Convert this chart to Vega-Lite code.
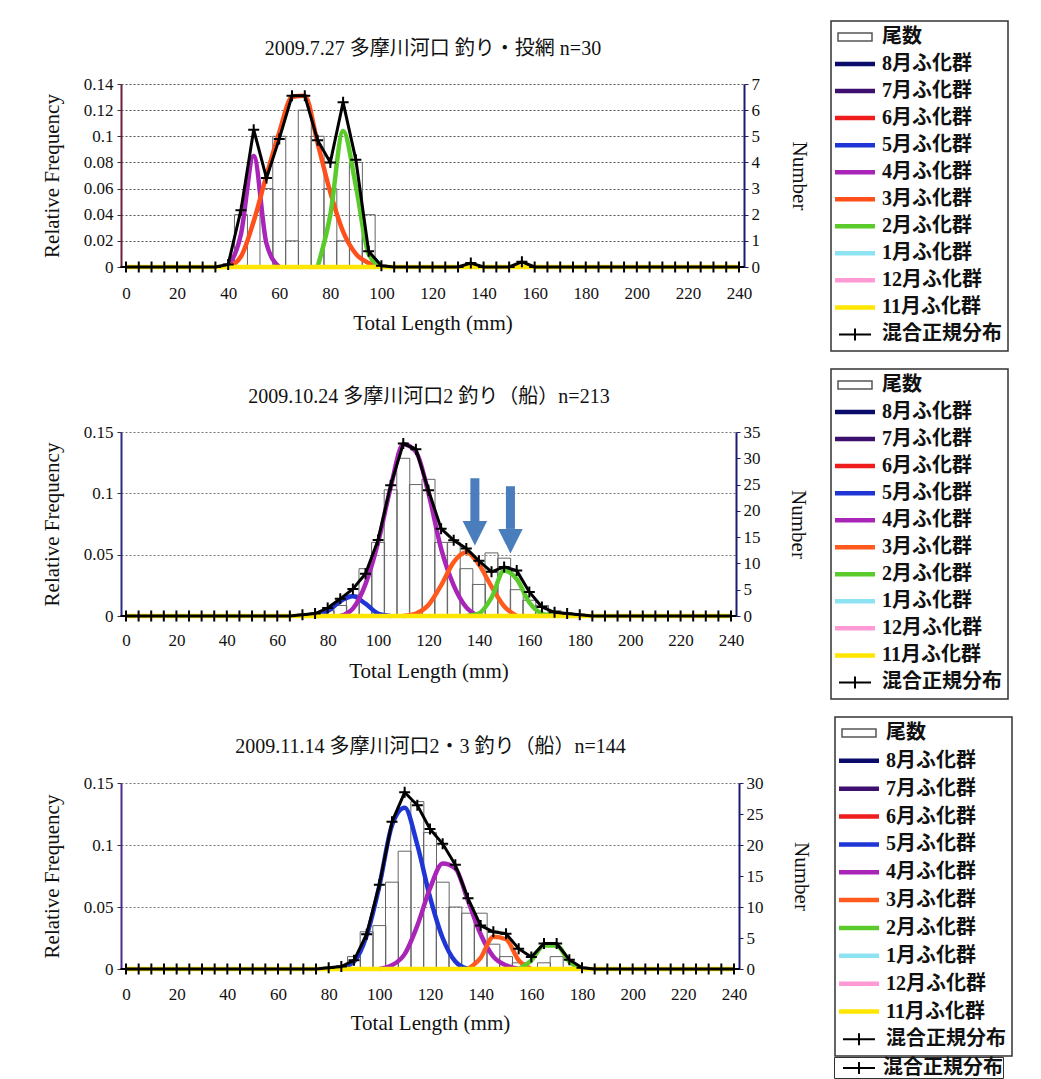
{
"$schema": "https://vega.github.io/schema/vega-lite/v6.json",
"background": "white",
"padding": {"left": 41, "top": 20, "right": 0, "bottom": 0},
"spacing": 16,
"config": {
  "view": {"stroke": null},
  "font": "Liberation Serif",
  "axis": {"labelFont": "Liberation Serif", "labelFontSize": 17, "labelColor": "#111", "titleFont": "Liberation Serif", "titleFontSize": 21, "titleFontWeight": "normal", "titleColor": "#111", "tickColor": "#333"},
  "legend": {"labelFont": "Liberation Serif, Noto Sans CJK JP", "labelFontSize": 20, "labelFontWeight": "bold", "labelColor": "#111", "rowPadding": 7.04, "padding": 6, "strokeColor": "#333", "fillColor": "white", "symbolSize": 1600, "symbolStrokeWidth": 4.5, "symbolOffset": 8, "labelOffset": 17, "labelLimit": 300}
},
"resolve": {"scale": {"color": "independent", "shape": "independent"}, "legend": {"color": "independent", "shape": "independent"}},
"datasets": {
  "b1": [{"L":45,"n":2},{"L":55,"n":3},{"L":60,"n":5},{"L":65,"n":1},{"L":70,"n":6},{"L":75,"n":5},{"L":80,"n":3},{"L":85,"n":1},{"L":90,"n":4},{"L":95,"n":2}],
  "c1": [
    {"g":"4月ふ化群","L":40,"f":0},{"g":"4月ふ化群","L":45,"f":0.025},{"g":"4月ふ化群","L":50,"f":0.085},{"g":"4月ふ化群","L":55,"f":0.018},{"g":"4月ふ化群","L":60,"f":0},
    {"g":"3月ふ化群","L":40,"f":0},{"g":"3月ふ化群","L":45,"f":0.008},{"g":"3月ふ化群","L":50,"f":0.035},{"g":"3月ふ化群","L":55,"f":0.07},{"g":"3月ふ化群","L":60,"f":0.103},{"g":"3月ふ化群","L":65,"f":0.13},{"g":"3月ふ化群","L":70,"f":0.131},{"g":"3月ふ化群","L":75,"f":0.095},{"g":"3月ふ化群","L":80,"f":0.057},{"g":"3月ふ化群","L":85,"f":0.027},{"g":"3月ふ化群","L":90,"f":0.01},{"g":"3月ふ化群","L":95,"f":0.003},{"g":"3月ふ化群","L":100,"f":0},
    {"g":"2月ふ化群","L":75,"f":0},{"g":"2月ふ化群","L":80,"f":0.04},{"g":"2月ふ化群","L":85,"f":0.104},{"g":"2月ふ化群","L":90,"f":0.062},{"g":"2月ふ化群","L":95,"f":0.01},{"g":"2月ふ化群","L":100,"f":0},
    {"g":"11月ふ化群","L":0,"f":0},{"g":"11月ふ化群","L":240,"f":0}
  ],
  "m1": [{"L":0,"f":0},{"L":5,"f":0},{"L":10,"f":0},{"L":15,"f":0},{"L":20,"f":0},{"L":25,"f":0},{"L":30,"f":0},{"L":35,"f":0},{"L":40,"f":0.002},{"L":45,"f":0.0435},{"L":50,"f":0.105},{"L":55,"f":0.068},{"L":60,"f":0.098},{"L":65,"f":0.131},{"L":70,"f":0.131},{"L":75,"f":0.097},{"L":80,"f":0.08},{"L":85,"f":0.126},{"L":90,"f":0.082},{"L":95,"f":0.012},{"L":100,"f":0.001},{"L":105,"f":0},{"L":110,"f":0},{"L":115,"f":0},{"L":120,"f":0},{"L":125,"f":0},{"L":130,"f":0},{"L":135,"f":0.003},{"L":140,"f":0},{"L":145,"f":0},{"L":150,"f":0},{"L":155,"f":0.004},{"L":160,"f":0},{"L":165,"f":0},{"L":170,"f":0},{"L":175,"f":0},{"L":180,"f":0},{"L":185,"f":0},{"L":190,"f":0},{"L":195,"f":0},{"L":200,"f":0},{"L":205,"f":0},{"L":210,"f":0},{"L":215,"f":0},{"L":220,"f":0},{"L":225,"f":0},{"L":230,"f":0},{"L":235,"f":0},{"L":240,"f":0}],
  "b2": [{"L":80,"n":1},{"L":85,"n":2},{"L":90,"n":4},{"L":95,"n":9},{"L":100,"n":14},{"L":105,"n":24},{"L":110,"n":30},{"L":115,"n":25},{"L":120,"n":26},{"L":125,"n":14},{"L":130,"n":14},{"L":135,"n":9},{"L":140,"n":6},{"L":145,"n":12},{"L":150,"n":11},{"L":155,"n":5},{"L":160,"n":3},{"L":165,"n":2},{"L":170,"n":1}],
  "c2": [
    {"g":"5月ふ化群","L":75,"f":0},{"g":"5月ふ化群","L":80,"f":0.004},{"g":"5月ふ化群","L":85,"f":0.012},{"g":"5月ふ化群","L":90,"f":0.016},{"g":"5月ふ化群","L":95,"f":0.01},{"g":"5月ふ化群","L":100,"f":0.002},{"g":"5月ふ化群","L":105,"f":0},
    {"g":"4月ふ化群","L":85,"f":0},{"g":"4月ふ化群","L":90,"f":0.006},{"g":"4月ふ化群","L":95,"f":0.026},{"g":"4月ふ化群","L":100,"f":0.06},{"g":"4月ふ化群","L":105,"f":0.105},{"g":"4月ふ化群","L":110,"f":0.14},{"g":"4月ふ化群","L":115,"f":0.134},{"g":"4月ふ化群","L":120,"f":0.1},{"g":"4月ふ化群","L":125,"f":0.055},{"g":"4月ふ化群","L":130,"f":0.025},{"g":"4月ふ化群","L":135,"f":0.007},{"g":"4月ふ化群","L":140,"f":0},
    {"g":"3月ふ化群","L":110,"f":0},{"g":"3月ふ化群","L":115,"f":0.002},{"g":"3月ふ化群","L":120,"f":0.009},{"g":"3月ふ化群","L":125,"f":0.025},{"g":"3月ふ化群","L":130,"f":0.044},{"g":"3月ふ化群","L":135,"f":0.052},{"g":"3月ふ化群","L":140,"f":0.042},{"g":"3月ふ化群","L":145,"f":0.024},{"g":"3月ふ化群","L":150,"f":0.008},{"g":"3月ふ化群","L":155,"f":0},
    {"g":"2月ふ化群","L":135,"f":0},{"g":"2月ふ化群","L":140,"f":0.002},{"g":"2月ふ化群","L":145,"f":0.015},{"g":"2月ふ化群","L":150,"f":0.037},{"g":"2月ふ化群","L":155,"f":0.03},{"g":"2月ふ化群","L":160,"f":0.011},{"g":"2月ふ化群","L":165,"f":0.002},{"g":"2月ふ化群","L":170,"f":0},
    {"g":"11月ふ化群","L":0,"f":0},{"g":"11月ふ化群","L":240,"f":0}
  ],
  "m2": [{"L":0,"f":0},{"L":5,"f":0},{"L":10,"f":0},{"L":15,"f":0},{"L":20,"f":0},{"L":25,"f":0},{"L":30,"f":0},{"L":35,"f":0},{"L":40,"f":0},{"L":45,"f":0},{"L":50,"f":0},{"L":55,"f":0},{"L":60,"f":0},{"L":65,"f":0},{"L":70,"f":0.001},{"L":75,"f":0.002},{"L":80,"f":0.0065},{"L":85,"f":0.014},{"L":90,"f":0.022},{"L":95,"f":0.0345},{"L":100,"f":0.062},{"L":105,"f":0.1066},{"L":110,"f":0.1406},{"L":115,"f":0.136},{"L":120,"f":0.1025},{"L":125,"f":0.0712},{"L":130,"f":0.0617},{"L":135,"f":0.055},{"L":140,"f":0.045},{"L":145,"f":0.036},{"L":150,"f":0.04},{"L":155,"f":0.037},{"L":160,"f":0.0196},{"L":165,"f":0.0073},{"L":170,"f":0.003},{"L":175,"f":0.002},{"L":180,"f":0.001},{"L":185,"f":0},{"L":190,"f":0},{"L":195,"f":0},{"L":200,"f":0},{"L":205,"f":0},{"L":210,"f":0},{"L":215,"f":0},{"L":220,"f":0},{"L":225,"f":0},{"L":230,"f":0},{"L":235,"f":0},{"L":240,"f":0}],
  "a2": [{"L":138.4,"f":0.1123,"f2":0.077},{"L":152.5,"f":0.1058,"f2":0.071}],
  "h2": [{"L":138.4,"f":0.0675},{"L":152.5,"f":0.061}],
  "b3": [{"L":90,"n":2},{"L":95,"n":6},{"L":100,"n":7},{"L":105,"n":14},{"L":110,"n":19},{"L":115,"n":27},{"L":120,"n":22},{"L":125,"n":14},{"L":130,"n":10},{"L":135,"n":9},{"L":140,"n":9},{"L":145,"n":4},{"L":150,"n":2},{"L":155,"n":1},{"L":165,"n":1},{"L":170,"n":2}],
  "c3": [
    {"g":"5月ふ化群","L":85,"f":0.001},{"g":"5月ふ化群","L":90,"f":0.006},{"g":"5月ふ化群","L":95,"f":0.027},{"g":"5月ふ化群","L":100,"f":0.067},{"g":"5月ふ化群","L":105,"f":0.116},{"g":"5月ふ化群","L":110,"f":0.13},{"g":"5月ふ化群","L":115,"f":0.1},{"g":"5月ふ化群","L":120,"f":0.058},{"g":"5月ふ化群","L":125,"f":0.025},{"g":"5月ふ化群","L":130,"f":0.006},{"g":"5月ふ化群","L":135,"f":0},
    {"g":"4月ふ化群","L":100,"f":0},{"g":"4月ふ化群","L":105,"f":0.003},{"g":"4月ふ化群","L":110,"f":0.012},{"g":"4月ふ化群","L":115,"f":0.035},{"g":"4月ふ化群","L":120,"f":0.065},{"g":"4月ふ化群","L":125,"f":0.085},{"g":"4月ふ化群","L":130,"f":0.081},{"g":"4月ふ化群","L":135,"f":0.055},{"g":"4月ふ化群","L":140,"f":0.028},{"g":"4月ふ化群","L":145,"f":0.01},{"g":"4月ふ化群","L":150,"f":0.003},{"g":"4月ふ化群","L":155,"f":0},
    {"g":"3月ふ化群","L":135,"f":0},{"g":"3月ふ化群","L":140,"f":0.009},{"g":"3月ふ化群","L":145,"f":0.026},{"g":"3月ふ化群","L":150,"f":0.024},{"g":"3月ふ化群","L":155,"f":0.007},{"g":"3月ふ化群","L":160,"f":0},
    {"g":"2月ふ化群","L":155,"f":0},{"g":"2月ふ化群","L":160,"f":0.007},{"g":"2月ふ化群","L":165,"f":0.019},{"g":"2月ふ化群","L":170,"f":0.019},{"g":"2月ふ化群","L":175,"f":0.006},{"g":"2月ふ化群","L":180,"f":0},
    {"g":"11月ふ化群","L":0,"f":0},{"g":"11月ふ化群","L":240,"f":0}
  ],
  "m3": [{"L":0,"f":0},{"L":5,"f":0},{"L":10,"f":0},{"L":15,"f":0},{"L":20,"f":0},{"L":25,"f":0},{"L":30,"f":0},{"L":35,"f":0},{"L":40,"f":0},{"L":45,"f":0},{"L":50,"f":0},{"L":55,"f":0},{"L":60,"f":0},{"L":65,"f":0},{"L":70,"f":0},{"L":75,"f":0},{"L":80,"f":0.001},{"L":85,"f":0.002},{"L":90,"f":0.007},{"L":95,"f":0.028},{"L":100,"f":0.068},{"L":105,"f":0.1187},{"L":110,"f":0.1425},{"L":115,"f":0.132},{"L":120,"f":0.113},{"L":125,"f":0.101},{"L":130,"f":0.084},{"L":135,"f":0.057},{"L":140,"f":0.035},{"L":145,"f":0.03},{"L":150,"f":0.0285},{"L":155,"f":0.0164},{"L":160,"f":0.0097},{"L":165,"f":0.0205},{"L":170,"f":0.0205},{"L":175,"f":0.0075},{"L":180,"f":0.001},{"L":185,"f":0},{"L":190,"f":0},{"L":195,"f":0},{"L":200,"f":0},{"L":205,"f":0},{"L":210,"f":0},{"L":215,"f":0},{"L":220,"f":0},{"L":225,"f":0},{"L":230,"f":0},{"L":235,"f":0},{"L":240,"f":0}]
},
"vconcat": [
{
  "width": 623, "height": 183,
  "layer": [
    {"data": {"name": "b1"},
     "mark": {"type": "bar", "size": 13, "fill": "transparent", "stroke": "#666", "strokeWidth": 1},
     "encoding": {
       "x": {"field": "L", "type": "quantitative", "scale": {"domain": [0, 240], "nice": false}, "axis": {"orient": "bottom", "title": "Total Length (mm)", "values": [0,20,40,60,80,100,120,140,160,180,200,220,240], "ticks": false, "domain": false, "grid": false, "labelPadding": 18, "titlePadding": 11}},
       "y": {"field": "n", "type": "quantitative", "scale": {"domain": [0, 7], "nice": false}, "axis": {"orient": "right", "title": "Number", "values": [0,1,2,3,4,5,6,7], "grid": false, "domainColor": "#1b1b70", "domainWidth": 2, "tickSize": 4, "tickColor": "#1b1b70", "labelPadding": 3, "titlePadding": 29}}
     }},
    {"data": {"name": "c1"},
     "encoding": {
       "x": {"field": "L", "type": "quantitative", "scale": {"domain": [0, 240], "nice": false}, "axis": {"orient": "top", "title": "2009.7.27 多摩川河口 釣り・投網 n=30", "labels": false, "ticks": false, "domain": false, "grid": false, "titlePadding": 26, "titleFont": "Liberation Serif, Noto Sans CJK JP", "titleFontSize": 20}},
       "y": {"field": "f", "type": "quantitative", "scale": {"domain": [0, 0.14], "nice": false}, "axis": {"orient": "left", "title": "Relative Frequency", "values": [0,0.02,0.04,0.06,0.08,0.1,0.12,0.14], "labelExpr": "datum.value === 0 ? '0' : format(datum.value, '.2~f')", "grid": true, "gridColor": "#555", "gridDash": [2,2], "domainColor": "#6b1f3a", "domainWidth": 2, "tickSize": 4, "labelPadding": 4, "titlePadding": 21}}
     },
     "layer": [
       {"mark": {"type": "line", "interpolate": "monotone", "strokeWidth": 4.5},
        "encoding": {"color": {"field": "g", "type": "nominal",
          "scale": {"domain": ["尾数","8月ふ化群","7月ふ化群","6月ふ化群","5月ふ化群","4月ふ化群","3月ふ化群","2月ふ化群","1月ふ化群","12月ふ化群","11月ふ化群","混合正規分布"], "range": ["#555555","#0b0b6b","#3d0f6e","#ee1c1c","#1f35d6","#a825b8","#ff4f1a","#5acb2a","#8ee3f2","#ff9ad5","#ffe600","#000000"]},
          "legend": {"title": null, "orient": "none", "legendX": 710, "legendY": -63, "symbolSize": 1600,
            "encode": {"symbols": {"update": {"size": {"value": 1600}, "shape": {"signal": "datum.value === '尾数' ? 'M-0.85,-0.2H0.85V0.2H-0.85Z' : datum.value === '混合正規分布' ? 'M-0.8,0H0.8M0,-0.3V0.3' : 'M-1,0H1'"}, "strokeWidth": {"signal": "datum.value === '尾数' ? 1.5 : datum.value === '混合正規分布' ? 2 : 4.5"}, "fill": {"value": "transparent"}}}, "legend": {"update": {"strokeWidth": {"value": 1.5}}}}}}}},
       {"data": {"name": "m1"}, "mark": {"type": "line", "color": "black", "strokeWidth": 3}},
       {"data": {"name": "m1"}, "mark": {"type": "point", "shape": "M-1,0H1M0,-1V1", "size": 121, "filled": false, "color": "black", "strokeWidth": 2, "opacity": 1}}
     ]}
  ],
  "resolve": {"scale": {"y": "independent"}, "axis": {"x": "independent"}}
},
{
  "width": 615, "height": 184,
  "layer": [
    {"data": {"name": "b2"},
     "mark": {"type": "bar", "size": 13, "fill": "transparent", "stroke": "#666", "strokeWidth": 1},
     "encoding": {
       "x": {"field": "L", "type": "quantitative", "scale": {"domain": [0, 240], "nice": false}, "axis": {"orient": "bottom", "title": "Total Length (mm)", "values": [0,20,40,60,80,100,120,140,160,180,200,220,240], "ticks": false, "domain": false, "grid": false, "labelPadding": 16, "titlePadding": 12}},
       "y": {"field": "n", "type": "quantitative", "scale": {"domain": [0, 35], "nice": false}, "axis": {"orient": "right", "title": "Number", "values": [0,5,10,15,20,25,30,35], "grid": false, "domainColor": "#1b1b70", "domainWidth": 2, "tickSize": 4, "tickColor": "#1b1b70", "labelPadding": 3, "titlePadding": 27}}
     }},
    {"data": {"name": "c2"},
     "encoding": {
       "x": {"field": "L", "type": "quantitative", "scale": {"domain": [0, 240], "nice": false}, "axis": {"orient": "top", "title": "2009.10.24 多摩川河口2 釣り（船）n=213", "labels": false, "ticks": false, "domain": false, "grid": false, "titlePadding": 26, "titleFont": "Liberation Serif, Noto Sans CJK JP", "titleFontSize": 20}},
       "y": {"field": "f", "type": "quantitative", "scale": {"domain": [0, 0.15], "nice": false}, "axis": {"orient": "left", "title": "Relative Frequency", "values": [0,0.05,0.1,0.15], "labelExpr": "datum.value === 0 ? '0' : format(datum.value, '.2~f')", "grid": true, "gridColor": "#777", "gridDash": [2,2], "domainColor": "#2a2a80", "domainWidth": 2, "tickSize": 4, "labelPadding": 4, "titlePadding": 21}}
     },
     "layer": [
       {"mark": {"type": "line", "interpolate": "monotone", "strokeWidth": 4.5},
        "encoding": {"color": {"field": "g", "type": "nominal",
          "scale": {"domain": ["尾数","8月ふ化群","7月ふ化群","6月ふ化群","5月ふ化群","4月ふ化群","3月ふ化群","2月ふ化群","1月ふ化群","12月ふ化群","11月ふ化群","混合正規分布"], "range": ["#555555","#0b0b6b","#3d0f6e","#ee1c1c","#1f35d6","#a825b8","#ff5a1e","#5acb2a","#8ee3f2","#ff9ad5","#ffe600","#000000"]},
          "legend": {"title": null, "orient": "none", "legendX": 710, "legendY": -63, "symbolSize": 1600,
            "encode": {"symbols": {"update": {"size": {"value": 1600}, "shape": {"signal": "datum.value === '尾数' ? 'M-0.85,-0.2H0.85V0.2H-0.85Z' : datum.value === '混合正規分布' ? 'M-0.8,0H0.8M0,-0.3V0.3' : 'M-1,0H1'"}, "strokeWidth": {"signal": "datum.value === '尾数' ? 1.5 : datum.value === '混合正規分布' ? 2 : 4.5"}, "fill": {"value": "transparent"}}}, "legend": {"update": {"strokeWidth": {"value": 1.5}}}}}}}},
       {"data": {"name": "m2"}, "mark": {"type": "line", "color": "black", "strokeWidth": 3}},
       {"data": {"name": "m2"}, "mark": {"type": "point", "shape": "M-1,0H1M0,-1V1", "size": 121, "filled": false, "color": "black", "strokeWidth": 2, "opacity": 1}},
       {"data": {"name": "a2"}, "mark": {"type": "rule", "color": "#4a7dbb", "strokeWidth": 9}, "encoding": {"y2": {"field": "f2"}}},
       {"data": {"name": "h2"}, "mark": {"type": "point", "shape": "M-1,-1L1,-1L0,1Z", "size": 600, "filled": true, "color": "#4a7dbb", "opacity": 1}}
     ]}
  ],
  "resolve": {"scale": {"y": "independent"}, "axis": {"x": "independent"}}
},
{
  "width": 618, "height": 186,
  "layer": [
    {"data": {"name": "b3"},
     "mark": {"type": "bar", "size": 13, "fill": "transparent", "stroke": "#666", "strokeWidth": 1},
     "encoding": {
       "x": {"field": "L", "type": "quantitative", "scale": {"domain": [0, 240], "nice": false}, "axis": {"orient": "bottom", "title": "Total Length (mm)", "values": [0,20,40,60,80,100,120,140,160,180,200,220,240], "ticks": false, "domain": false, "grid": false, "labelPadding": 17, "titlePadding": 10}},
       "y": {"field": "n", "type": "quantitative", "scale": {"domain": [0, 30], "nice": false}, "axis": {"orient": "right", "title": "Number", "values": [0,5,10,15,20,25,30], "grid": false, "domainColor": "#1b1b70", "domainWidth": 2, "tickSize": 4, "tickColor": "#1b1b70", "labelPadding": 3, "titlePadding": 27}}
     }},
    {"data": {"name": "c3"},
     "encoding": {
       "x": {"field": "L", "type": "quantitative", "scale": {"domain": [0, 240], "nice": false}, "axis": {"orient": "top", "title": "2009.11.14 多摩川河口2・3 釣り（船）n=144", "labels": false, "ticks": false, "domain": false, "grid": false, "titlePadding": 27, "titleFont": "Liberation Serif, Noto Sans CJK JP", "titleFontSize": 20}},
       "y": {"field": "f", "type": "quantitative", "scale": {"domain": [0, 0.15], "nice": false}, "axis": {"orient": "left", "title": "Relative Frequency", "values": [0,0.05,0.1,0.15], "labelExpr": "datum.value === 0 ? '0' : format(datum.value, '.2~f')", "grid": true, "gridColor": "#777", "gridDash": [2,2], "domainColor": "#4a2a8a", "domainWidth": 2, "tickSize": 4, "labelPadding": 4, "titlePadding": 21}}
     },
     "layer": [
       {"mark": {"type": "line", "interpolate": "monotone", "strokeWidth": 4.5},
        "encoding": {"color": {"field": "g", "type": "nominal",
          "scale": {"domain": ["尾数","8月ふ化群","7月ふ化群","6月ふ化群","5月ふ化群","4月ふ化群","3月ふ化群","2月ふ化群","1月ふ化群","12月ふ化群","11月ふ化群","混合正規分布"], "range": ["#555555","#0b0b6b","#3d0f6e","#ee1c1c","#1f35d6","#a825b8","#ff5a1e","#5acb2a","#8ee3f2","#ff9ad5","#ffe600","#000000"]},
          "legend": {"title": null, "orient": "none", "legendX": 714, "legendY": -66, "symbolSize": 1600, "rowPadding": 7.85,
            "encode": {"symbols": {"update": {"size": {"value": 1600}, "shape": {"signal": "datum.value === '尾数' ? 'M-0.85,-0.2H0.85V0.2H-0.85Z' : datum.value === '混合正規分布' ? 'M-0.8,0H0.8M0,-0.3V0.3' : 'M-1,0H1'"}, "strokeWidth": {"signal": "datum.value === '尾数' ? 1.5 : datum.value === '混合正規分布' ? 2 : 4.5"}, "fill": {"value": "transparent"}}}, "legend": {"update": {"strokeWidth": {"value": 1.5}}}}}}}},
       {"data": {"name": "m3"}, "mark": {"type": "line", "color": "black", "strokeWidth": 3}},
       {"data": {"name": "m3"}, "mark": {"type": "point", "shape": "M-1,0H1M0,-1V1", "size": 121, "filled": false, "color": "black", "strokeWidth": 2, "opacity": 1}},
       {"data": {"name": "m3"}, "mark": {"type": "point", "size": 0, "filled": false, "color": "black", "strokeWidth": 2, "opacity": 1},
        "encoding": {"shape": {"datum": "混合正規分布", "type": "nominal", "scale": {"domain": ["混合正規分布"], "range": ["M-1.6,0H1.6M0,-0.6V0.6"]},
          "legend": {"title": null, "orient": "none", "legendX": 713, "legendY": 274, "padding": 0, "rowPadding": 0, "symbolSize": 400, "symbolStrokeWidth": 2, "symbolOffset": 14, "labelOffset": 13,
            "encode": {"symbols": {"update": {"size": {"value": 400}, "strokeWidth": {"value": 2}, "stroke": {"value": "black"}, "fill": {"value": "transparent"}}}, "legend": {"update": {"strokeWidth": {"value": 1.5}}}}}}}}
     ]}
  ],
  "resolve": {"scale": {"y": "independent"}, "axis": {"x": "independent"}}
}
]
}
